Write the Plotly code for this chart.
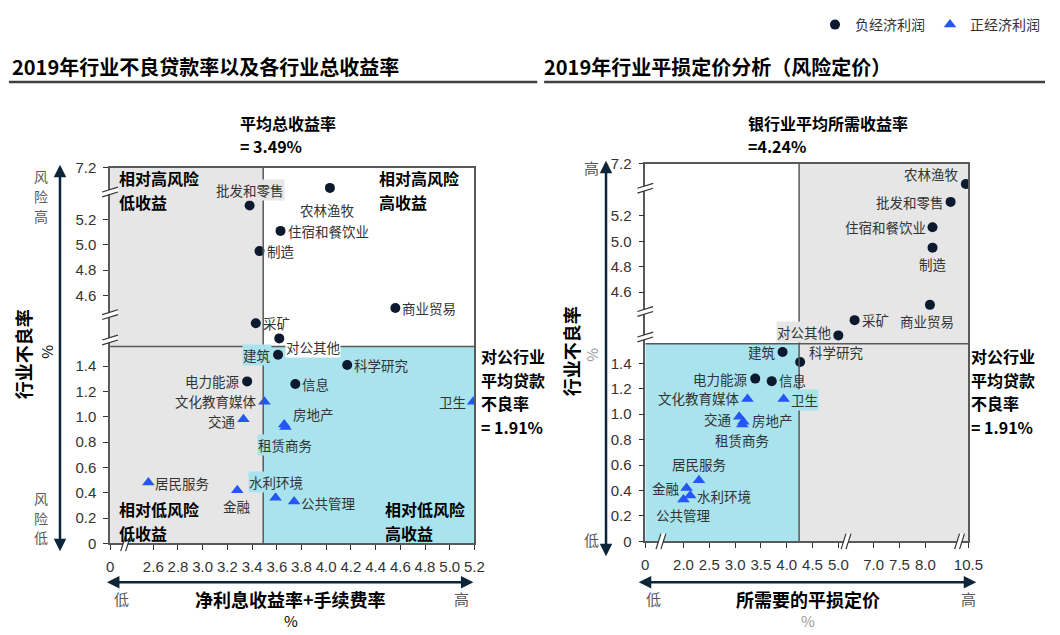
import numpy as np
import plotly.graph_objects as go

W, H = 1060, 635

# ---------------- data ----------------
sectors = ["农林渔牧", "批发和零售", "住宿和餐饮业", "制造", "商业贸易", "采矿", "对公其他",
           "建筑", "科学研究", "电力能源", "信息", "文化教育媒体", "卫生", "交通", "房地产",
           "租赁商务", "居民服务", "金融", "水利环境", "公共管理"]
npl = [7.04, 5.31, 5.11, 4.95, 4.50, 4.38, 4.26, 1.49, 1.41, 1.28, 1.26, 1.12, 1.12, 0.98,
       0.94, 0.92, 0.48, 0.42, 0.36, 0.33]
total_yield = [4.03, 3.38, 3.63, 3.46, 4.56, 3.43, 3.62, 3.61, 4.17, 3.36, 3.75, 3.50, 5.19,
               3.33, 3.66, 3.67, 2.56, 3.28, 3.59, 3.74]
breakeven = [10.45, 8.49, 8.14, 8.14, 8.09, 6.63, 5.00, 3.92, 4.26, 3.39, 3.71, 3.24, 3.94,
             3.08, 3.16, 3.14, 2.30, 2.06, 2.13, 2.00]
economic_profit = ["负"] * 11 + ["正"] * 9

avg_total_yield = 3.49
avg_required_yield = 4.24
avg_npl = 1.91

y_ticks = [0, 0.2, 0.4, 0.6, 0.8, 1.0, 1.2, 1.4, 4.6, 4.8, 5.0, 5.2, 7.2]
x_ticks_left = [0, 2.6, 2.8, 3.0, 3.2, 3.4, 3.6, 3.8, 4.0, 4.2, 4.4, 4.6, 4.8, 5.0, 5.2]
x_ticks_right = [0, 2.0, 2.5, 3.0, 3.5, 4.0, 4.5, 5.0, 7.0, 7.5, 8.0, 10.5]

# ---------------- broken-axis transforms ----------------
def fy(v):
    return np.interp(v, [0, 1.5, 1.91, 4.195, 5.38, 6.97, 7.2],
                     [0, 1.5, 1.555, 1.555, 2.74, 2.74, 2.97])

def gx(v):
    return np.interp(v, [0, 2.4, 5.2], [2.25, 2.4, 5.2])

def hx(v):
    return np.interp(v, [0, 2, 5.13, 6.445, 8.665, 10.33, 10.5],
                     [1.26, 2, 5.13, 5.13, 7.35, 7.35, 7.52])

def fmt(t):
    return "0" if t == 0 else f"{t:.1f}"

# pixel geometry of plot areas
L = dict(x0=108, x1=479, y0=549, y1=163, xr=(2.25, 5.2), yr=(0, 2.97))
R = dict(x0=653, x1=982, y0=547, y1=159, xr=(1.26, 7.52), yr=(0, 2.97))

def px(g, t):
    return g["x0"] + (t - g["xr"][0]) / (g["xr"][1] - g["xr"][0]) * (g["x1"] - g["x0"])

def py(g, t):
    return g["y0"] - (t - g["yr"][0]) / (g["yr"][1] - g["yr"][0]) * (g["y0"] - g["y1"])

def P(x, y):
    return x / W, 1 - y / H

GRAY = "#e6e6e6"
CYAN = "#a8e3ee"
NAVY = "#0b1a2e"
BLUE = "#2456f5"
LINE = "#595959"
CJK = "Noto Sans CJK SC"

fig = go.Figure()

xt_left = gx(np.array(total_yield))
xt_right = hx(np.array(breakeven))
yt = fy(np.array(npl))
neg = [i for i, e in enumerate(economic_profit) if e == "负"]
pos = [i for i, e in enumerate(economic_profit) if e == "正"]

for (xa, ya, xs, show) in [("x", "y", xt_left, True), ("x2", "y2", xt_right, False)]:
    fig.add_trace(go.Scatter(x=xs[neg], y=yt[neg], mode="markers", xaxis=xa, yaxis=ya,
                             name="负经济利润", showlegend=show,
                             marker=dict(symbol="circle", size=10, color=NAVY),
                             hovertext=[sectors[i] for i in neg]))
    fig.add_trace(go.Scatter(x=xs[pos], y=yt[pos], mode="markers", xaxis=xa, yaxis=ya,
                             name="正经济利润", showlegend=show,
                             marker=dict(symbol="triangle-up", size=11, color=BLUE),
                             hovertext=[sectors[i] for i in pos]))

shapes = []
def rect(xref, yref, x0, x1, y0, y1, color):
    shapes.append(dict(type="rect", xref=xref, yref=yref, x0=x0, x1=x1, y0=y0, y1=y1,
                       fillcolor=color, line=dict(width=0), layer="below"))

xl_div = float(gx(avg_total_yield)); y_div = float(fy(avg_npl))
rect("x", "y", L["xr"][0], xl_div, y_div, 2.97, GRAY)
rect("x", "y", L["xr"][0], xl_div, 0, y_div, GRAY)
rect("x", "y", xl_div, 5.2, 0, y_div, CYAN)
xr_div = float(hx(avg_required_yield))
rect("x2", "y2", R["xr"][0], xr_div, 0, y_div, CYAN)
rect("x2", "y2", xr_div, R["xr"][1], 0, 2.97, GRAY)

for xa, ya, xd, g in [("x", "y", xl_div, L), ("x2", "y2", xr_div, R)]:
    shapes.append(dict(type="line", xref=xa, yref=ya, x0=xd, x1=xd, y0=0, y1=2.97,
                       line=dict(color=LINE, width=1.5)))
    shapes.append(dict(type="line", xref=xa, yref=ya, x0=g["xr"][0], x1=g["xr"][1],
                       y0=y_div, y1=y_div, line=dict(color=LINE, width=1.5)))

def brk(a, b, c, d):
    shapes.append(dict(type="path", xref="paper", yref="paper",
                       path=f"M{a[0]},{a[1]} L{b[0]},{b[1]} L{c[0]},{c[1]} L{d[0]},{d[1]} Z",
                       fillcolor="white", line=dict(width=0)))
    for p1, p2 in [(a, b), (d, c)]:
        shapes.append(dict(type="line", xref="paper", yref="paper", x0=p1[0], y0=p1[1],
                           x1=p2[0], y1=p2[1], line=dict(color="#333333", width=1.2)))

def ybreak(xpix, ypix):
    brk(P(xpix - 8, ypix + 4), P(xpix + 8, ypix - 1), P(xpix + 8, ypix - 6), P(xpix - 8, ypix - 1))

def xbreak(xpix, ypix):
    brk(P(xpix - 4, ypix + 8), P(xpix + 1, ypix - 8), P(xpix + 6, ypix - 8), P(xpix + 1, ypix + 8))

for g in (L, R):
    ybreak(g["x0"], py(g, 2.77))
    ybreak(g["x0"], py(g, 1.60))
    ybreak(g["x0"], py(g, 1.80))
xbreak(px(L, 2.4) - 4, L["y0"])
xbreak(px(R, 1.62) - 4, R["y0"])
xbreak(px(R, 5.13), R["y0"])
xbreak(px(R, 7.33), R["y0"])

# title underline
shapes.append(dict(type="line", xref="paper", yref="paper", x0=5 / W, x1=543 / W,
                   y0=1 - 75 / H, y1=1 - 75 / H, line=dict(color="#404040", width=2.5)))
shapes.append(dict(type="line", xref="paper", yref="paper", x0=550 / W, x1=1,
                   y0=1 - 75 / H, y1=1 - 75 / H, line=dict(color="#404040", width=2.5)))

ann = []
def text(xp, yp, s, size=14, color="#000", bold=False, xanchor="center", yanchor="middle",
         textangle=0):
    x, y = P(xp, yp)
    ann.append(dict(xref="paper", yref="paper", x=x, y=y, text=f"<b>{s}</b>" if bold else s,
                    showarrow=False, xanchor=xanchor, yanchor=yanchor, borderpad=0,
                    textangle=textangle, font=dict(family=CJK, size=size, color=color)))

def lines(xp, y0, dy, parts, **kw):
    for k, s in enumerate(parts):
        text(xp, y0 + k * dy, s, **kw)

def arrow(x0, y0, x1, y1):
    x, y = P(x1, y1)
    ann.append(dict(xref="paper", yref="paper", x=x, y=y, ax=x0 - x1, ay=y0 - y1,
                    showarrow=True, arrowhead=2, arrowside="end+start", arrowsize=1,
                    arrowwidth=2.5, arrowcolor="#0d2538", text=""))

# titles
text(7, 59, "2019年行业不良贷款率以及各行业总收益率", size=20, bold=True, xanchor="left")
text(549, 59, "2019年行业平损定价分析（风险定价）", size=20, bold=True, xanchor="left")

# average annotations
text(239, 117, "平均总收益率", size=16, bold=True, xanchor="left")
text(239, 141, f"= {avg_total_yield:.2f}%", size=16, bold=True, xanchor="left")
text(757, 117, "银行业平均所需收益率", size=16, bold=True, xanchor="left")
text(757, 141, f"={avg_required_yield:.2f}%", size=16, bold=True, xanchor="left")
for xx in (485, 984):
    lines(xx, 357, 24, ["对公行业", "平均贷款", "不良率", f"= {avg_npl:.2f}%"],
          size=16, bold=True, xanchor="left")

# quadrant labels
lines(116, 174, 24, ["相对高风险", "低收益"], size=16, bold=True, xanchor="left")
lines(381, 174, 24, ["相对高风险", "高收益"], size=16, bold=True, xanchor="left")
lines(116, 514, 24, ["相对低风险", "低收益"], size=16, bold=True, xanchor="left")
lines(387, 514, 24, ["相对低风险", "高收益"], size=16, bold=True, xanchor="left")

# left y-axis side
arrow(57, 548, 57, 160)
lines(38, 172, 20.5, ["风", "险", "高"], size=14, color="#595959")
lines(38, 502, 20.5, ["风", "险", "低"], size=14, color="#595959")
text(20, 355, "行业不良率", size=18, bold=True, textangle=-90)
text(43, 352, "%", size=15, textangle=-90)
# right y-axis side
arrow(613, 553, 613, 156)
text(598, 163, "高", size=15, color="#595959")
text(598, 545, "低", size=15, color="#595959")
text(577, 352, "行业不良率", size=18, bold=True, textangle=-90)
text(598, 355, "%", size=15, color="#999999", textangle=-90)

# x-axis sides
arrow(110, 589, 478, 589)
text(120, 606, "低", size=15, color="#595959")
text(466, 606, "高", size=15, color="#595959")
text(292, 606, "净利息收益率+手续费率", size=18, bold=True)
text(292, 628, "%", size=15)
arrow(651, 589, 990, 589)
text(661, 606, "低", size=15, color="#595959")
text(982, 606, "高", size=15, color="#595959")
text(819, 606, "所需要的平损定价", size=18, bold=True)
text(819, 628, "%", size=15, color="#999999")

# point labels: direction, extra dx, extra dy (pixels), background
left_place = {
    "农林渔牧": ("below", -2, -6, None), "批发和零售": ("above", 0, 0, GRAY),
    "住宿和餐饮业": ("right", 0, 0, None), "制造": ("right", 0, 0, None),
    "商业贸易": ("right", 0, 0, None), "采矿": ("right", 0, 0, None),
    "对公其他": ("right", 0, -9, "white"), "建筑": ("left", 0, 0, CYAN),
    "科学研究": ("right", 0, 0, None), "电力能源": ("left", 0, 0, None),
    "信息": ("right", 0, 0, None), "文化教育媒体": ("left", 0, 1, None),
    "卫生": ("left", 0, 0, None), "交通": ("left", 0, -2, None),
    "房地产": ("right", 2, 10, None), "租赁商务": ("below", 0, -2, CYAN),
    "居民服务": ("right", 0, 0, None), "金融": ("below", 0, 0, None),
    "水利环境": ("above", 0, 0, CYAN), "公共管理": ("right", 0, -1, None),
}
right_place = {
    "农林渔牧": ("left", 0, 10, None), "批发和零售": ("left", 0, 0, None),
    "住宿和餐饮业": ("left", 0, 0, None), "制造": ("below", 0, 0, None),
    "商业贸易": ("below", -3, 0, None), "采矿": ("right", 0, 0, None),
    "对公其他": ("left", 0, 3, GRAY), "建筑": ("left", 0, 0, None),
    "科学研究": ("right", 2, 10, None), "电力能源": ("left", 0, 0, None),
    "信息": ("right", 0, 1, None), "文化教育媒体": ("left", 0, 1, None),
    "卫生": ("right", 0, -1, CYAN), "交通": ("left", 0, -2, None),
    "房地产": ("right", 2, 2, None), "租赁商务": ("below", 0, 0, None),
    "居民服务": ("above", 0, 0, None), "金融": ("left", 0, 0, None),
    "水利环境": ("right", 0, 0, None), "公共管理": ("below", 0, 0, None),
}

def label(xa, ya, x, y, s, spec):
    d, dx, dy, bg = spec
    a = dict(xref=xa, yref=ya, x=float(x), y=float(y), text=s, showarrow=False,
             font=dict(family=CJK, size=13.5, color="#333333"), borderpad=0)
    if bg:
        a["bgcolor"] = bg
    if d == "right":
        a.update(xanchor="left", yanchor="middle", xshift=6 + dx, yshift=dy)
    elif d == "left":
        a.update(xanchor="right", yanchor="middle", xshift=-6 + dx, yshift=dy)
    elif d == "above":
        a.update(xanchor="center", yanchor="bottom", xshift=dx, yshift=5 + dy)
    else:
        a.update(xanchor="center", yanchor="top", xshift=dx, yshift=-5 + dy)
    ann.append(a)

for i, s in enumerate(sectors):
    label("x", "y", xt_left[i], yt[i], s, left_place[s])
    label("x2", "y2", xt_right[i], yt[i], s, right_place[s])

axis_common = dict(showgrid=False, zeroline=False, showline=True, mirror=True,
                   linecolor=LINE, linewidth=1.5, ticks="outside", ticklen=5,
                   tickcolor="#333333", tickwidth=1, ticklabelstandoff=4,
                   tickfont=dict(family="Liberation Sans", size=15, color="#333333"))

fig.update_layout(
    width=W, height=H, autosize=False, margin=dict(l=0, r=0, t=0, b=0),
    paper_bgcolor="white", plot_bgcolor="white",
    xaxis=dict(domain=[L["x0"] / W, L["x1"] / W], range=list(L["xr"]),
               tickvals=list(gx(np.array(x_ticks_left))), ticktext=[fmt(t) for t in x_ticks_left],
               anchor="y", **axis_common),
    yaxis=dict(domain=[1 - L["y0"] / H, 1 - L["y1"] / H], range=list(L["yr"]),
               tickvals=list(fy(np.array(y_ticks))), ticktext=[fmt(t) for t in y_ticks],
               anchor="x", **axis_common),
    xaxis2=dict(domain=[R["x0"] / W, R["x1"] / W], range=list(R["xr"]),
                tickvals=list(hx(np.array(x_ticks_right))), ticktext=[fmt(t) for t in x_ticks_right],
                anchor="y2", **axis_common),
    yaxis2=dict(domain=[1 - R["y0"] / H, 1 - R["y1"] / H], range=list(R["yr"]),
                tickvals=list(fy(np.array(y_ticks))), ticktext=[fmt(t) for t in y_ticks],
                anchor="x2", **axis_common),
    shapes=shapes, annotations=ann,
    legend=dict(orientation="h", x=1, xanchor="right", y=1, yanchor="top",
                font=dict(family=CJK, size=14, color="#333333"), bgcolor="rgba(0,0,0,0)"),
    showlegend=True,
)

fig.write_html("out.html")
